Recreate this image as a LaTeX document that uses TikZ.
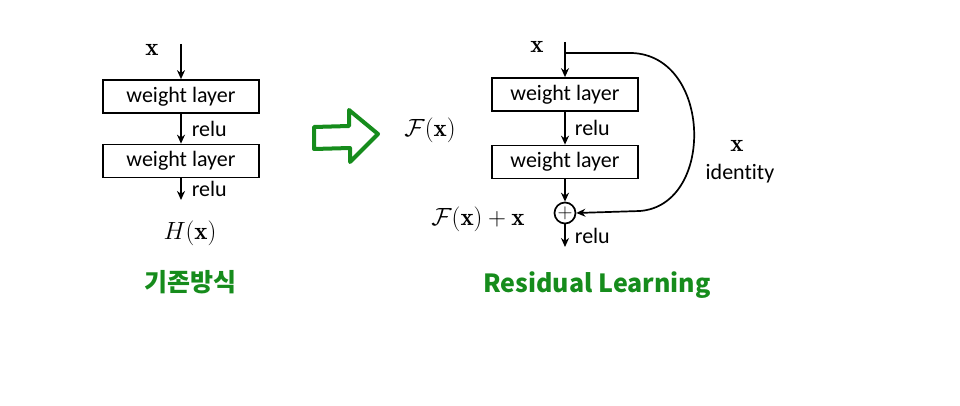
\documentclass[tikz,border=0pt]{standalone}
\usepackage{amsmath,amssymb}
\usepackage{fontspec}
\usepackage{tikz}
\usetikzlibrary{shapes,arrows,arrows.meta,positioning,calc}
\newfontfamily\boxfont[Ligatures=NoCommon]{Carlito}
\newfontfamily\hanfont{Noto Sans CJK KR}
\definecolor{penGreen}{RGB}{22, 140, 28}

\begin{document}
\begin{tikzpicture}[x=1pt, y=-1pt]
    \tikzstyle{wlayer} = [draw, line width=1.7pt, minimum height=33pt, inner sep=0pt, font=\boxfont\fontsize{22}{22}\selectfont]
    \tikzstyle{darrow} = [line width=1.7pt, ->, >={Stealth[length=9pt, width=8pt]}]
    \tikzstyle{lbl} = [font=\boxfont\fontsize{22}{22}\selectfont, inner sep=2pt]
    \tikzstyle{mth} = [font=\fontsize{25}{25}\selectfont]
    \tikzstyle{pen} = [text=penGreen, font=\hanfont\bfseries\fontsize{25}{25}\selectfont]

    \useasboundingbox (0,0) rectangle (960,406);

    % plain stack
    \node[mth] (lx) at (152,50) {$\mathbf{x}$};
    \coordinate (lin) at (181,44);
    \node[wlayer, minimum width=156pt] (l1) at (181,96.5) {weight layer};
    \node[wlayer, minimum width=156pt] (l2) at (181,161) {weight layer};
    \coordinate (lout) at (181,200);
    \node[mth] (hx) at (190,233) {$H(\mathbf{x})$};
    \node[pen] (kor) at (190,282) {기존방식};

    \draw[darrow] (lin) -- (l1);
    \draw[darrow] (l1) -- node[lbl, right=8pt] {relu} (l2);
    \draw[darrow] (l2) -- node[lbl, right=8pt] {relu} (lout);

    % hollow arrow
    \draw[penGreen, line width=4pt, line join=round]
        (314,127) -- (349,126) -- (349,110) -- (378,134) -- (350,162) -- (350,148) -- (314,149) -- cycle;

    % residual block
    \node[mth] (rx) at (537,47) {$\mathbf{x}$};
    \coordinate (rin) at (565,42);
    \coordinate (split) at (565,53);
    \node[wlayer, minimum width=146pt] (r1) at (565,94.5) {weight layer};
    \node[wlayer, minimum width=146pt] (r2) at (565,162) {weight layer};
    \node[draw, circle, line width=1.7pt, minimum size=21pt, inner sep=0pt, font=\fontsize{20}{20}\selectfont] (plus) at (565,213) {$+$};
    \coordinate (rout) at (565,247);
    \node[mth] (fx) at (430,130) {$\mathcal{F}(\mathbf{x})$};
    \node[mth] (fxx) at (478,219) {$\mathcal{F}(\mathbf{x})+\mathbf{x}$};
    \node[mth] (ix) at (737,146) {$\mathbf{x}$};
    \node[lbl] (id) at (740,174) {identity};
    \node[pen] (res) at (597,285) {Residual Learning};

    \draw[darrow] (rin) -- (r1);
    \draw[darrow] (r1) -- node[lbl, right=7pt] {relu} (r2);
    \draw[darrow] (r2) -- (plus);
    \draw[darrow] (plus) -- node[lbl, right=7pt] {relu} (rout);
    \draw[darrow] (split) -- (632,53) .. controls (712,56) and (715,205) .. (640,211) -- (plus.east);
\end{tikzpicture}
\end{document}
